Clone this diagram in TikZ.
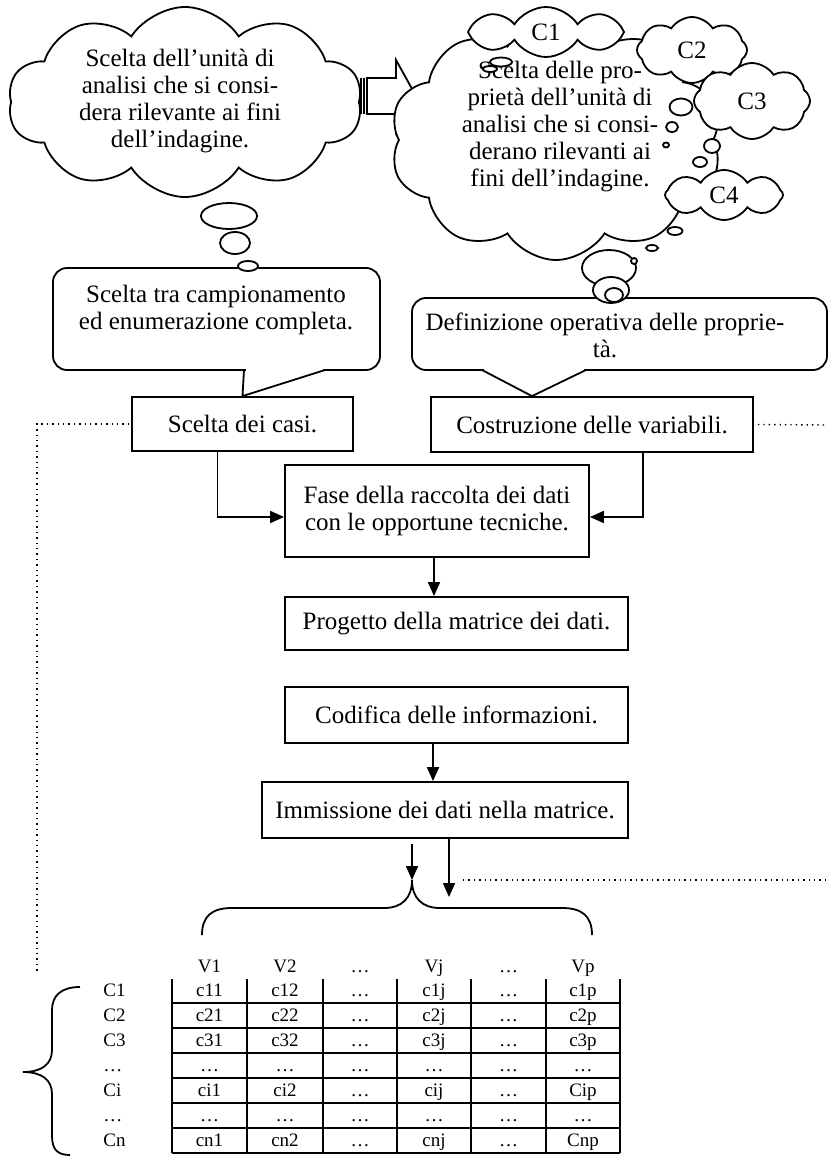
\documentclass[tikz,border=0pt]{standalone}
\usepackage{fontspec}
\setmainfont{Liberation Serif}
\usetikzlibrary{shapes.symbols,arrows.meta,calc,positioning}

\begin{document}
\begin{tikzpicture}
[x=0.5pt,y=-0.5pt,
every node/.style={font=\fontsize{12.5}{13.5}\selectfont},
%
stepbox/.style={draw,line width=0.9pt,inner sep=0pt},
callbox/.style={draw,line width=0.9pt,rounded corners=7pt,inner sep=0pt,fill=white},
puff/.style={cloud,cloud puffs=10,cloud puff arc=115,cloud ignores aspect,draw,line width=0.9pt,fill=white,inner sep=0pt},
bubble/.style={draw,line width=0.9pt,fill=white},
%
flow/.style={line width=0.9pt,-{Triangle[length=7pt,width=6pt]}},
dotline/.style={dotted,line width=0.7pt},
gridline/.style={line width=0.9pt},
cell/.style={font=\fontsize{9.5}{10}\selectfont,inner sep=0pt,text height=6.5pt,text depth=2pt}]

\useasboundingbox (0,0) rectangle (828,1156);

% striped arrow
\fill (355,78) rectangle (358,114);
\draw[line width=0.9pt] (361,78) -- (361,114) (364,78) -- (364,114);
\draw[line width=0.9pt] (367,78) -- (396,78) -- (396,60) -- (416,96) -- (396,132) -- (396,114) -- (367,114) -- cycle;

% clouds
\node[puff,minimum width=166pt,minimum height=120pt] (propcloud) at (556,140) {};
\node[align=center] (proptext) at (560,127) {Scelta delle pro-\\prietà dell'unità di\\analisi che si consi-\\derano rilevanti ai\\fini dell'indagine.};
\node[puff,cloud puffs=8,minimum width=78pt,minimum height=25pt] (cone) at (546,32) {C1};
\node[puff,cloud puffs=8,minimum width=55pt,minimum height=33pt] (ctwo) at (692,50) {C2};
\node[puff,cloud puffs=8,minimum width=58pt,minimum height=38pt] (cthree) at (752,101) {C3};
\node[puff,cloud puffs=8,minimum width=59pt,minimum height=25pt] (cfour) at (724,195) {C4};
\filldraw[bubble] (501,62) ellipse [x radius=11,y radius=4.5];
\filldraw[bubble] (490,69) ellipse [x radius=7,y radius=3];
\filldraw[bubble] (681,107) ellipse [x radius=11.5,y radius=8.5];
\filldraw[bubble] (672,127) ellipse [x radius=6,y radius=5];
\filldraw[bubble] (666,145) ellipse [x radius=3,y radius=2.5];
\filldraw[bubble] (712,146) ellipse [x radius=8,y radius=7];
\filldraw[bubble] (700,162) ellipse [x radius=7,y radius=5];
\filldraw[bubble] (675,231) ellipse [x radius=7.5,y radius=4];
\filldraw[bubble] (652,248) ellipse [x radius=6,y radius=3];

\node[puff,minimum width=177pt,minimum height=95pt] (unitcloud) at (185,102) {};
\node[align=center] (unittext) at (180,101) {Scelta dell'unità di\\analisi che si consi-\\dera rilevante ai fini\\dell'indagine.};
\filldraw[bubble] (229,216) ellipse [x radius=28,y radius=13];
\filldraw[bubble] (235,243) ellipse [x radius=15,y radius=11];

% callouts
\node[stepbox,minimum width=110.5pt,minimum height=27pt] (casi) at (242.5,424) {Scelta dei casi.};
\node[stepbox,minimum width=161pt,minimum height=27.5pt] (costr) at (592,424.5) {Costruzione delle variabili.};

\node[callbox,minimum width=163.5pt,minimum height=51pt] (camp) at (216.5,319) {};
\node[align=center] (camptext) at (216,310) {Scelta tra campionamento\\ed enumerazione completa.};
\fill[white] (246,367) rectangle (323,373);
\draw[line width=0.9pt] (244,370) -- (casi.north) -- (325,370);

\node[callbox,minimum width=207.5pt,minimum height=36pt] (defin) at (619.5,334) {};
\node[align=center] (defintext) at (605,335.5) {Definizione operativa delle proprie-\\tà.};
\coordinate (defintip) at ($(costr.north)+(-60,0)$);
\fill[white] (484,367) rectangle (584,373);
\draw[line width=0.9pt] (482,370) -- (defintip) -- (586,370);

\filldraw[bubble] (248,266) ellipse [x radius=10,y radius=5];
\filldraw[bubble] (609,268) ellipse [x radius=27,y radius=18];
\filldraw[bubble] (634,261) circle [radius=3];
\filldraw[bubble] (611,290) ellipse [x radius=18,y radius=13];
\filldraw[bubble] (614,295) ellipse [x radius=9,y radius=7];

% flow
\node[stepbox,minimum width=152pt,minimum height=46pt,align=center] (fase) at (437,511) {Fase della raccolta dei dati\\con le opportune tecniche.};
\node[stepbox,minimum width=171.5pt,minimum height=26.5pt] (prog) at (456.5,623.5) {Progetto della matrice dei dati.};
\node[stepbox,minimum width=171.5pt,minimum height=28pt] (codif) at (456.5,715) {Codifica delle informazioni.};
\node[stepbox,minimum width=183pt,minimum height=28pt] (imm) at (445,810) {Immissione dei dati nella matrice.};

\draw[flow] ($(casi.south)+(-25,0)$) |- ($(fase.west)+(0,6)$);
\draw[flow] ($(costr.south)+(51,0)$) |- ($(fase.east)+(0,6)$);
\draw[flow] ($(fase.south)+(-3,0)$) -- ($(prog.north)+(-22.5,0)$);
\draw[flow] ($(codif.south)+(-23.5,0)$) -- ($(imm.north)+(-12,0)$);

\coordinate (cusp) at (412,880);
\coordinate (dataend) at (449,897);
\draw[flow] ($(imm.south -| cusp)+(0,5)$) -- (cusp);
\draw[flow] (imm.south -| dataend) -- (dataend);

\coordinate (leftend) at (37,973);
\coordinate (rightend) at (828,425);
\coordinate (lowend) at (828,880);
\draw[dotline] ($(casi.west)+(-2,0)$) -| (leftend);
\draw[dotline] ($(costr.east)+(4,0)$) -- (rightend);
\draw[dotline] (463,880) -- (lowend);

% braces
\draw[gridline] (202,935) .. controls (202,916) and (212,908) .. (232,908) -- (384,908) .. controls (402,908) and (412,898) .. (cusp)
  .. controls (412,898) and (422,908) .. (440,908) -- (562,908) .. controls (582,908) and (592,916) .. (592,935);
\draw[gridline] (80,987) .. controls (62,987) and (52,995) .. (52,1010) -- (52,1050) .. controls (52,1064) and (42,1072) .. (23,1072)
  .. controls (42,1072) and (52,1080) .. (52,1094) -- (52,1136) .. controls (52,1150) and (58,1155) .. (70,1155);

% data matrix
\foreach \gx in {172,247,323,397,471,546,620}
  \draw[gridline] (\gx,979) -- (\gx,1153);
\foreach \gy in {1003,1028,1053,1078,1103,1128,1153}
  \draw[gridline] (172,\gy) -- (620,\gy);
\foreach \hlab/\hx [count=\hi] in {V1/209.5,V2/285,\dots/360,Vj/434,\dots/508.5,Vp/583}
  \node[cell] (head\hi) at (\hx,968) {\hlab};
\foreach \ry/\rlab/\vA/\vB/\vC/\vD/\vE/\vF [count=\ri] in
  {992/C1/c11/c12/\dots/c1j/\dots/c1p,
   1017/C2/c21/c22/\dots/c2j/\dots/c2p,
   1042/C3/c31/c32/\dots/c3j/\dots/c3p,
   1067/\dots/\dots/\dots/\dots/\dots/\dots/\dots,
   1092/Ci/ci1/ci2/\dots/cij/\dots/Cip,
   1117/\dots/\dots/\dots/\dots/\dots/\dots/\dots,
   1142/Cn/cn1/cn2/\dots/cnj/\dots/Cnp}
{
  \node[cell,anchor=west] (row\ri) at (103,\ry) {\rlab};
  \foreach \cv/\cx [count=\ci] in {\vA/209.5,\vB/285,\vC/360,\vD/434,\vE/508.5,\vF/583}
    \node[cell] (cell\ri\ci) at (\cx,\ry) {\cv};
}

\end{tikzpicture}
\end{document}
